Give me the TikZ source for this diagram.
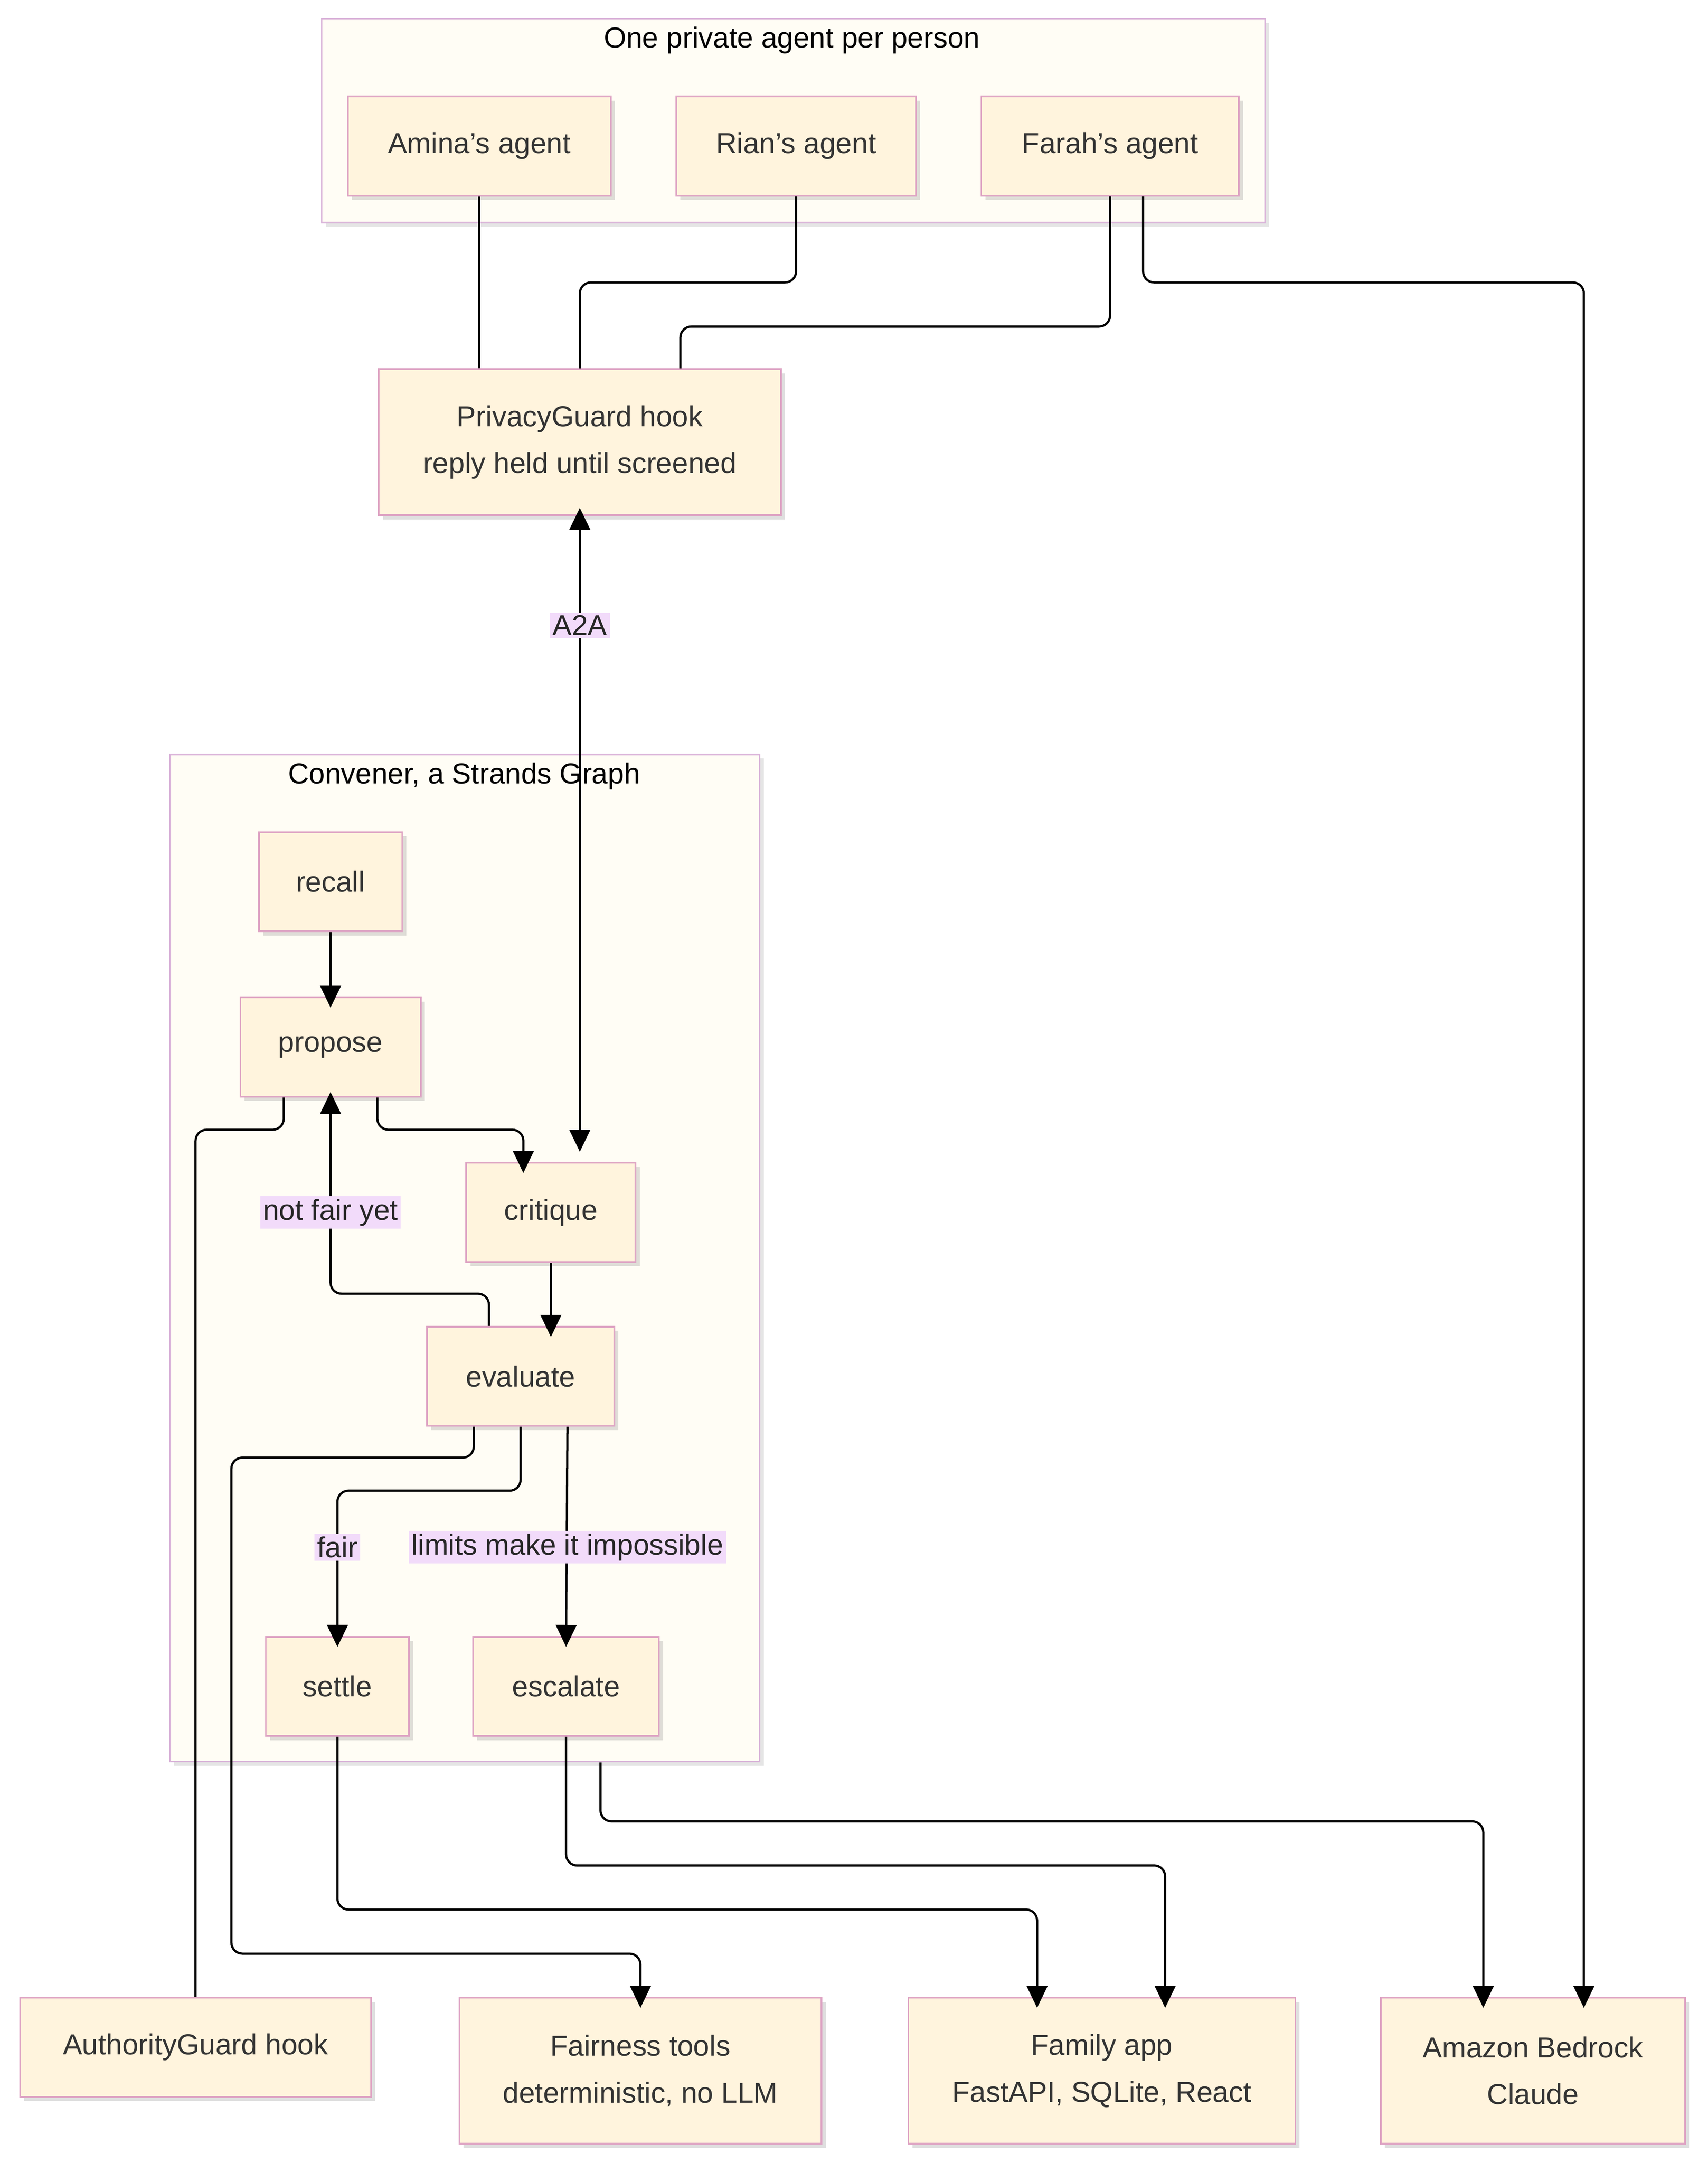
\documentclass[tikz,border=0pt]{standalone}
\usepackage{fontspec}
\setmainfont{Liberation Sans}
\usetikzlibrary{arrows.meta,shadows,calc}
\begin{document}
\begin{tikzpicture}[x=1pt,y=-1pt,
  font=\fontsize{21}{26}\selectfont,
  box/.style={draw=purple!25!white!85!violet,fill=nodefill,line width=1.2pt,align=center,inner sep=0pt,
    drop shadow={shadow xshift=3pt,shadow yshift=-3pt,opacity=0.25,fill=gray}},
  clus/.style={draw=violet!30,fill=clusfill,line width=1.2pt,
    drop shadow={shadow xshift=3pt,shadow yshift=-3pt,opacity=0.2,fill=gray}},
  edge/.style={line width=1.6pt,rounded corners=8pt},
  arr/.style={edge,-{Triangle[length=16pt,width=15pt]}},
  lab/.style={fill=labfill,inner sep=2pt,text=black!85}]
\definecolor{nodefill}{HTML}{FFF4DD}
\definecolor{clusfill}{HTML}{FFFDF5}
\definecolor{labfill}{HTML}{F2DBFA}
\colorlet{purple!25!white!85!violet}{violet!30}
\useasboundingbox (0,0) rectangle (1240,1570);
\fill[white] (0,0) rectangle (1240,1570);
% clusters
\node[clus,minimum width=685,minimum height=148,anchor=north west] (c1) at (233,13) {};
\node[anchor=north] (c1t) at (575,16) {One private agent per person};
\node[clus,minimum width=428,minimum height=731,anchor=north west] (c2) at (123,547) {};
\node[anchor=north] (c2t) at (337,550) {Convener, a Strands Graph};
% nodes
\tikzset{box/.append style={text=black!80}}
\node[box,minimum width=191,minimum height=72] (amina) at (348,106) {Amina's agent};
\node[box,minimum width=174,minimum height=72] (rian) at (578,106) {Rian's agent};
\node[box,minimum width=187,minimum height=72] (farah) at (806,106) {Farah's agent};
\node[box,minimum width=292,minimum height=106] (pg) at (421,321) {PrivacyGuard hook\\[8pt]reply held until screened};
\node[box,minimum width=104,minimum height=72] (recall) at (240,640) {recall};
\node[box,minimum width=131,minimum height=72] (propose) at (240,760) {propose};
\node[box,minimum width=123,minimum height=72] (critique) at (400,880) {critique};
\node[box,minimum width=136,minimum height=72] (evaluate) at (378,999) {evaluate};
\node[box,minimum width=104,minimum height=72] (settle) at (245,1224) {settle};
\node[box,minimum width=135,minimum height=72] (escalate) at (411,1224) {escalate};
\node[box,minimum width=255,minimum height=72] (auth) at (142,1486) {AuthorityGuard hook};
\node[box,minimum width=263,minimum height=106] (fair) at (465,1503) {Fairness tools\\[8pt]deterministic, no LLM};
\node[box,minimum width=281,minimum height=106] (app) at (800,1503) {Family app\\[8pt]FastAPI, SQLite, React};
\node[box,minimum width=221,minimum height=106] (bed) at (1113,1503) {Amazon Bedrock\\[8pt]Claude};
% edges
\draw[edge] (amina.south) -- (amina.south |- pg.north);
\draw[edge] (rian.south) -- (578,205) -| (pg.north);
\draw[edge] (farah.south) -- (806,237) -| ([xshift=73pt]pg.north);
\draw[arr] ([xshift=24pt]farah.south) -- (830,205) -| ([xshift=37pt,yshift=-8pt]bed.north);
\draw[arr,{Triangle[length=16pt,width=15pt]}-{Triangle[length=16pt,width=15pt]}] ([yshift=6pt]pg.south) -- (421,836) coordinate (a2aend);
\node[lab] (l1) at (421,454) {A2A};
\draw[arr] (recall.south) -- ([yshift=-8pt]propose.north);
\draw[arr] ([xshift=34pt]propose.south) -- (274,820) -| ([xshift=-20pt,yshift=-8pt]critique.north);
\draw[arr] (critique.south) -- ([xshift=22pt,yshift=-8pt]evaluate.north);
\draw[arr] ([xshift=-23pt]evaluate.north) -- (355,939) -| ([yshift=4pt]propose.south);
\node[lab] (l2) at (240,880) {not fair yet};
\draw[arr] (evaluate.south) -- (378,1082) -| ([yshift=-8pt]settle.north);
\node[lab] (l3) at (245,1123) {fair};
\draw[arr] ([xshift=34pt]evaluate.south) -- ([yshift=-8pt]escalate.north);
\node[lab] (l4) at (412,1123) {limits make it impossible};
\draw[arr] ([xshift=-34pt]evaluate.south) -- (344,1058) -| (168,1418) -| ([yshift=-8pt]fair.north);
\draw[edge] (auth.north) -- (142,820) -| ([xshift=-34pt]propose.south);
\draw[arr] (settle.south) -- (245,1386) -| ([xshift=-47pt,yshift=-8pt]app.north);
\draw[arr] (escalate.south) -- (411,1354) -| ([xshift=46pt,yshift=-8pt]app.north);
\draw[arr] ([xshift=25pt]escalate.south |- c2.south) -- (436,1322) -| ([xshift=-36pt,yshift=-8pt]bed.north);
\end{tikzpicture}
\end{document}
